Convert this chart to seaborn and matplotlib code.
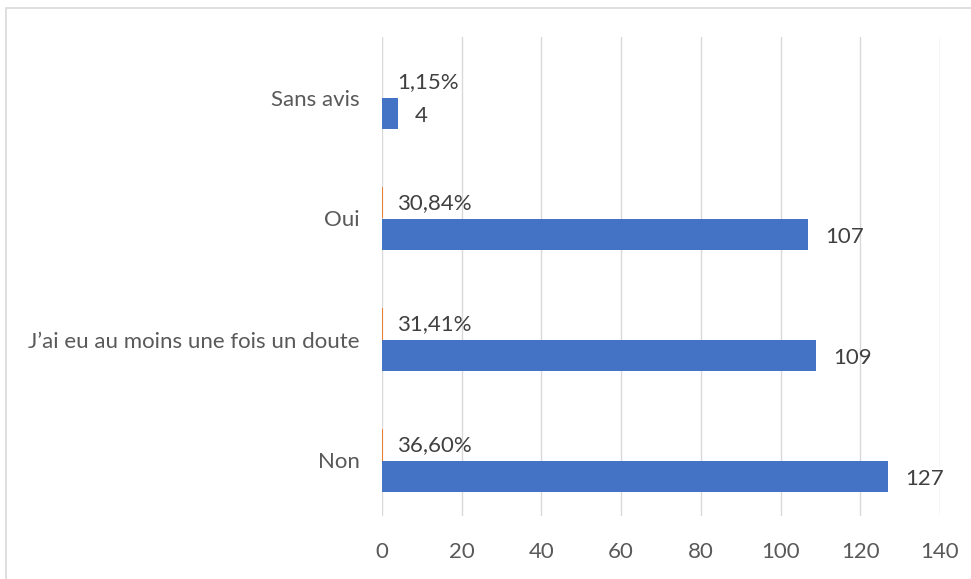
import matplotlib
matplotlib.use("Agg")
import matplotlib.pyplot as plt
import seaborn as sns
import pandas as pd
from matplotlib.patches import Rectangle

categories = ["Sans avis", "Oui", "J\u2019ai eu au moins une fois un doute", "Non"]
counts = [4, 107, 109, 127]
shares = [0.0115, 0.3084, 0.3141, 0.3660]
share_labels = ["1,15%", "30,84%", "31,41%", "36,60%"]
xticks = [0, 20, 40, 60, 80, 100, 120, 140]

grey = "#595959"
grid = "#D9D9D9"

df = pd.DataFrame({
    "cat": categories * 2,
    "serie": ["pct"] * 4 + ["n"] * 4,
    "val": shares + counts,
})

sns.set_style("white")
plt.rcParams["font.family"] = ["Lato", "DejaVu Sans"]

fig = plt.figure(figsize=(9.71, 5.79), dpi=100)
ax = fig.add_axes([382 / 971, 1 - 521 / 579, 558 / 971, 484 / 579])

sns.barplot(data=df, y="cat", x="val", hue="serie", hue_order=["pct", "n"],
            order=categories, orient="h", width=0.52, dodge=True,
            palette={"pct": "#ED7D31", "n": "#4472C4"}, ax=ax, legend=False,
            saturation=1, linewidth=0)

ax.set_xlim(0, 140)
ax.set_xticks(xticks)
# vertical gridlines stop a little above the axes bottom, as in the original
for t in xticks:
    ax.axvline(t, ymin=6 / 484, ymax=1, color=grid, linewidth=1, zorder=0)
for s in ax.spines.values():
    s.set_visible(False)
ax.set_xlabel("")
ax.set_ylabel("")
ax.tick_params(axis="x", length=0, pad=15, labelsize=16, labelcolor=grey)
ax.tick_params(axis="y", length=0, pad=16, labelsize=16, labelcolor=grey)

# labels: counts right of blue bars, shares above at the left
for i, (c, lab) in enumerate(zip(counts, share_labels)):
    ax.annotate(str(c), (c, i + 0.13), xytext=(12, -2), textcoords="offset points",
                ha="left", va="center", fontsize=16, color="#404040")
    ax.annotate(lab, (0, i - 0.13), xytext=(11, 0), textcoords="offset points",
                ha="left", va="center", fontsize=16, color="#404040")

fig.patches.append(Rectangle((5.5 / 971, -0.1), 1.2, 1 - 7.5 / 579 + 0.1,
                             transform=fig.transFigure, fill=False,
                             edgecolor=grid, linewidth=1.2))

fig.savefig("out.png", dpi=100)
